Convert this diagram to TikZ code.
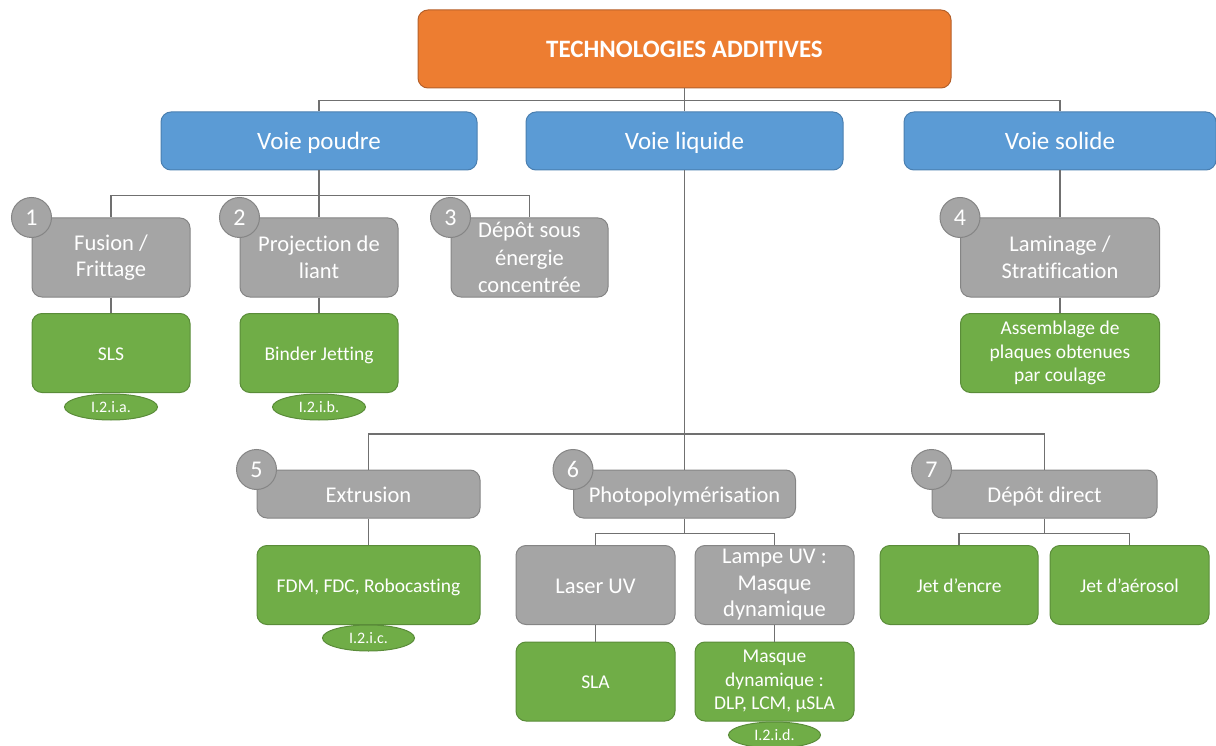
\documentclass[tikz,border=0pt]{standalone}
\usepackage{fontspec}
\setmainfont{Carlito}[Ligatures=NoCommon]
\usetikzlibrary{shapes.geometric}
\definecolor{orangebox}{HTML}{ED7D31}
\definecolor{orangeline}{HTML}{B5602A}
\definecolor{bluebox}{HTML}{5B9BD5}
\definecolor{blueline}{HTML}{4A7FB0}
\definecolor{graybox}{HTML}{A5A5A5}
\definecolor{grayline}{HTML}{858585}
\definecolor{greenbox}{HTML}{70AD47}
\definecolor{greenline}{HTML}{5A8C39}
\definecolor{linegray}{HTML}{707070}

\begin{document}
\begin{tikzpicture}[x=1pt, y=-1pt,
    box/.style={rectangle, rounded corners=10pt, line width=1pt, text=white, align=center, inner sep=0pt},
    oneline/.style 2 args={text height=#1, text depth=#2},
    topbox/.style={box, oneline={22.5pt}{4.5pt}, fill=orangebox, draw=orangeline, font=\bfseries\fontsize{25}{30}\selectfont},
    voie/.style={box, oneline={22.5pt}{4.5pt}, fill=bluebox, draw=blueline, minimum height=58pt, font=\fontsize{25}{30}\selectfont},
    famille/.style={box, fill=graybox, draw=grayline, font=\fontsize{22.5}{26.5}\selectfont},
    grisseul/.style={famille, oneline={20.2pt}{4pt}},
    procede/.style={box, fill=greenbox, draw=greenline, font=\fontsize{19.5}{23.5}\selectfont},
    vertseul/.style={procede, oneline={17.5pt}{3.5pt}},
    numero/.style={circle, fill=graybox, draw=grayline, line width=1pt, minimum size=40pt, inner sep=0pt, text=white, font=\fontsize{24}{28}\selectfont},
    renvoi/.style={ellipse, oneline={14.4pt}{2.9pt}, fill=greenbox, draw=greenline, line width=1pt, minimum width=93pt, minimum height=26pt, inner sep=0pt, text=white, font=\fontsize{16}{18}\selectfont},
    link/.style={draw=linegray, line width=1.2pt}]

    \useasboundingbox (0,0) rectangle (1216,746);

    % niveau 1 et 2
    \node[topbox, minimum width=533pt, minimum height=78pt] (tech) at (684.5,49) {TECHNOLOGIES ADDITIVES};
    \node[voie, minimum width=316pt] (poudre) at (319,141) {Voie poudre};
    \node[voie, minimum width=317pt] (liquide) at (684.5,141) {Voie liquide};
    \node[voie, minimum width=312pt] (solide) at (1060,141) {Voie solide};

    % voie poudre
    \node[famille, minimum width=158pt, minimum height=79pt] (fusion) at (111,257.5) {Fusion /\\Frittage};
    \node[famille, minimum width=158pt, minimum height=79pt] (projection) at (319,257.5) {Projection de\\liant};
    \node[famille, minimum width=157pt, minimum height=79pt, font=\fontsize{22.5}{27.5}\selectfont] (depot) at (529.5,257.5) {Dépôt sous\\énergie\\concentrée};
    \node[vertseul, minimum width=158pt, minimum height=79pt] (sls) at (111,353) {SLS};
    \node[vertseul, minimum width=158pt, minimum height=79pt] (binder) at (319,353) {Binder Jetting};
    \node[renvoi] (refa) at (111,407) {I.2.i.a.};
    \node[renvoi] (refb) at (319,407) {I.2.i.b.};

    % voie solide
    \node[famille, minimum width=199pt, minimum height=79pt] (laminage) at (1060,257.5) {Laminage /\\Stratification};
    \node[procede, minimum width=199pt, minimum height=79pt] (assemblage) at (1060,353) {Assemblage de\\plaques obtenues\\par coulage};

    % voie liquide
    \node[grisseul, minimum width=223pt, minimum height=48pt] (extrusion) at (368.5,494) {Extrusion};
    \node[grisseul, minimum width=222pt, minimum height=48pt] (photo) at (684.5,494) {Photopolymérisation};
    \node[grisseul, minimum width=225pt, minimum height=48pt] (direct) at (1044.5,494) {Dépôt direct};
    \node[vertseul, minimum width=223pt, minimum height=79pt] (fdm) at (368.5,585) {FDM, FDC, Robocasting};
    \node[renvoi, minimum width=92pt] (refc) at (368.5,638) {I.2.i.c.};
    \node[grisseul, minimum width=159pt, minimum height=79pt] (laser) at (595.5,585) {Laser UV};
    \node[famille, minimum width=159pt, minimum height=79pt] (lampe) at (774.5,585) {Lampe UV :\\Masque\\dynamique};
    \node[vertseul, minimum width=159pt, minimum height=79pt] (sla) at (595.5,681.5) {SLA};
    \node[procede, minimum width=159pt, minimum height=79pt] (masque) at (774.5,681.5) {Masque\\dynamique :\\DLP, LCM, µSLA};
    \node[renvoi, minimum width=92pt] (refd) at (774.5,735) {I.2.i.d.};
    \node[vertseul, minimum width=158pt, minimum height=79pt] (encre) at (959,585) {Jet d’encre};
    \node[vertseul, minimum width=159pt, minimum height=79pt] (aerosol) at (1129.5,585) {Jet d’aérosol};

    % numeros
    \node[numero] (n1) at (fusion.north west) {1};
    \node[numero] (n2) at (projection.north west) {2};
    \node[numero] (n3) at (depot.north west) {3};
    \node[numero] (n4) at (laminage.north west) {4};
    \node[numero] (n5) at (extrusion.north west) {5};
    \node[numero] (n6) at (photo.north west) {6};
    \node[numero] (n7) at (direct.north west) {7};

    % liaisons
    \coordinate (jl) at (684.5,434);
    \draw[link] (tech.south) -- ++(0,12) -| (poudre.north);
    \draw[link] (tech.south) -- (liquide.north);
    \draw[link] (tech.south) -- ++(0,12) -| (solide.north);
    \draw[link] (poudre.south) -- ++(0,25) -| (fusion.north);
    \draw[link] (poudre.south) -- (projection.north);
    \draw[link] (poudre.south) -- ++(0,25) -| (depot.north);
    \draw[link] (fusion) -- (sls);
    \draw[link] (projection) -- (binder);
    \draw[link] (solide) -- (laminage);
    \draw[link] (laminage) -- (assemblage);
    \draw[link] (liquide.south) -- (jl) -| (extrusion.north);
    \draw[link] (jl) -- (photo.north);
    \draw[link] (jl) -| (direct.north);
    \draw[link] (extrusion) -- (fdm);
    \draw[link] (photo.south) -- ++(0,15) -| (laser.north);
    \draw[link] (photo.south) -- ++(0,15) -| (lampe.north);
    \draw[link] (laser) -- (sla);
    \draw[link] (lampe) -- (masque);
    \draw[link] (direct.south) -- ++(0,15) -| (encre.north);
    \draw[link] (direct.south) -- ++(0,15) -| (aerosol.north);
\end{tikzpicture}
\end{document}
